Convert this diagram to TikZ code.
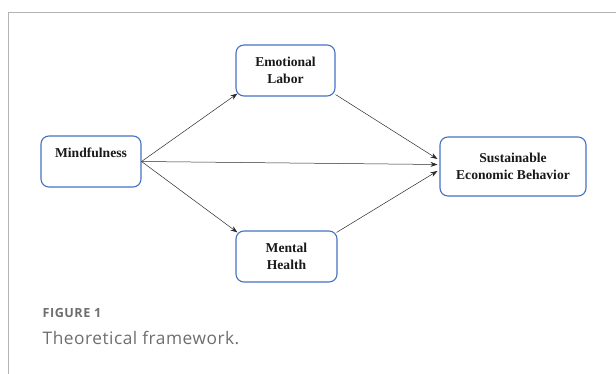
\documentclass[tikz,border=0pt]{standalone}
\usepackage{fontspec}
\setmainfont{Liberation Serif}
\newfontfamily\capfont{Open Sans}
\newfontfamily\capfontA[LetterSpace=4]{Open Sans}
\newfontfamily\capfontB[LetterSpace=3]{Open Sans}
\usetikzlibrary{arrows.meta,calc}
\definecolor{boxblue}{HTML}{4472C4}
\definecolor{framegray}{HTML}{B4B4B4}
\definecolor{capgray}{HTML}{6E6E6E}
\definecolor{linegray}{HTML}{2A2A2A}
\begin{document}
\begin{tikzpicture}[x=1pt,y=-1pt,
  box/.style={draw=boxblue,line width=1.1pt,rounded corners=8pt,align=center,
    font=\fontsize{13.6}{17}\selectfont\bfseries,text=black!90,inner sep=0pt},
  conn/.style={draw=linegray,line width=0.5pt,-{Stealth[length=7pt,width=5pt]}}]
\useasboundingbox (0,0) rectangle (616,374);
\draw[framegray,line width=0.9pt] (616,12) -- (8,12) -- (8,374);
\node[box,minimum width=99pt,minimum height=51pt] (e) at (285.5,70.5) {Emotional\\Labor};
\node[box,minimum width=100pt,minimum height=51pt] (m) at (91,161.5) {Mindfulness\\\mbox{}};
\node[box,minimum width=101pt,minimum height=51pt] (h) at (286.5,256.5) {Mental\\Health};
\node[box,minimum width=146pt,minimum height=59pt] (s) at (513,166.5) {Sustainable\\Economic Behavior};
\draw[conn] (m.east) -- ($(e.south west)+(2,-3)$);
\draw[conn] (m.east) -- ($(s.west)+(-2,-2)$);
\draw[conn] (m.east) -- ($(h.north west)+(2,2)$);
\draw[conn] ($(e.south east)+(0,-2)$) -- ($(s.west)+(-2,-7.5)$);
\draw[conn] ($(h.north east)+(-1,2)$) -- ($(s.west)+(-2,4.5)$);
\node[anchor=base west,inner sep=0pt,text=capgray,font=\capfontA\fontsize{12.6}{14}\selectfont\bfseries] (f) at (42.5,317) {FIGURE 1};
\node[anchor=base west,inner sep=0pt,text=capgray,font=\capfontB\fontsize{17.3}{20}\selectfont] (t) at (42.5,344) {Theoretical framework.};
\end{tikzpicture}
\end{document}
